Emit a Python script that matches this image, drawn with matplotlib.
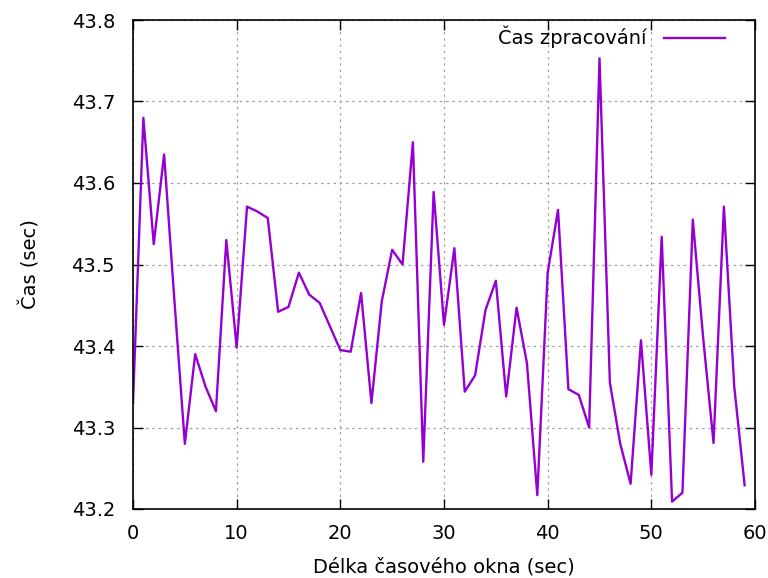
import matplotlib
matplotlib.use("Agg")
import matplotlib.pyplot as plt

x = list(range(60))
y = [43.33, 43.68, 43.525, 43.635, 43.455, 43.28, 43.39, 43.35, 43.32, 43.53,
     43.398, 43.571, 43.565, 43.557, 43.442, 43.448, 43.49, 43.463, 43.453, 43.424,
     43.395, 43.393, 43.465, 43.33, 43.455, 43.518, 43.50, 43.65, 43.258, 43.589,
     43.426, 43.52, 43.344, 43.364, 43.444, 43.48, 43.338, 43.447, 43.379, 43.217,
     43.49, 43.567, 43.347, 43.34, 43.30, 43.753, 43.355, 43.28, 43.231, 43.407,
     43.242, 43.534, 43.209, 43.22, 43.555, 43.41, 43.281, 43.571, 43.35, 43.229]

xticks = [0, 10, 20, 30, 40, 50, 60]
yticks = [43.2, 43.3, 43.4, 43.5, 43.6, 43.7, 43.8]

plt.rcParams['font.family'] = ['DejaVu Sans']
fig = plt.figure(figsize=(7.68, 5.78), dpi=100)
ax = fig.add_axes([133/768, 69/578, 622/768, 489/578])
ax.plot(x, y, color='#9400D3', lw=1.7, label='Čas zpracování')
ax.set_xlim(0, 60)
ax.set_ylim(43.2, 43.8)
ax.set_xticks(xticks)
ax.set_yticks(yticks)
ax.set_xticklabels([str(v) for v in xticks])
ax.set_yticklabels([f"{v:.1f}" for v in yticks])
ax.grid(True, color='#a0a0a0', linestyle=(0, (2, 3)), lw=0.9)
ax.tick_params(direction='in', length=7, width=1, top=True, right=True,
               labelsize=14, pad=11, colors='black')
ax.tick_params(axis='y', pad=13)
for s in ax.spines.values():
    s.set_linewidth(1.2)
ax.set_xlabel('Délka časového okna (sec)', fontsize=14, labelpad=10)
ax.set_ylabel('Čas (sec)', fontsize=14, labelpad=22)
leg = ax.legend(loc='upper right', frameon=False, fontsize=14, markerfirst=False,
                handlelength=3.15, handletextpad=0.9, borderaxespad=0.1,
                bbox_to_anchor=(0.968, 1.008))
fig.savefig('out.png', dpi=100)
